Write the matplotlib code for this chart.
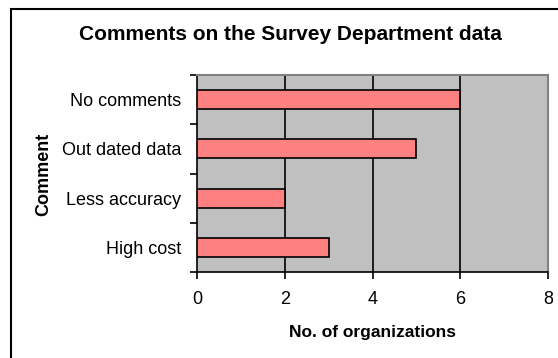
import matplotlib
matplotlib.use("Agg")
import matplotlib.pyplot as plt
from matplotlib.patches import Rectangle

categories = ["High cost", "Less accuracy", "Out dated data", "No comments"]
values = [3, 2, 5, 6]
xticks = [0, 2, 4, 6, 8]

plt.rcParams['font.family'] = ['Liberation Sans', 'DejaVu Sans']

W, H = 558, 358
fig = plt.figure(figsize=(W/100, H/100), dpi=100)
# plot area in pixels
x0, x1, y0, y1 = 197, 548, 75, 272
ax = fig.add_axes([x0/W, 1 - y1/H, (x1-x0)/W, (y1-y0)/H])
ax.set_facecolor('#C0C0C0')

ax.barh(range(len(categories)), values, height=0.39, color='#FF8080',
        edgecolor='black', linewidth=1.2, zorder=3)
ax.set_xlim(0, 8)
ax.set_ylim(-0.5, len(categories) - 0.5)
ax.set_xticks(xticks)
ax.set_xticklabels([str(t) for t in xticks], fontsize=13)
ax.set_yticks(range(len(categories)))
ax.set_yticklabels(categories, fontsize=13)
ax.tick_params(axis='y', length=0, pad=11.5)
ax.tick_params(axis='x', length=5, width=1.2, direction='out', pad=8.5)
# category divider ticks on y-axis
ax.set_yticks([i - 0.5 for i in range(len(categories) + 1)], minor=True)
ax.tick_params(axis='y', which='minor', length=5, width=1.2, direction='out')

for t in xticks[1:-1]:
    ax.axvline(t, color='black', linewidth=1.2, zorder=1)

for s in ['top', 'right']:
    ax.spines[s].set_color('#808080')
    ax.spines[s].set_linewidth(1.5)
for s in ['left', 'bottom']:
    ax.spines[s].set_color('black')
    ax.spines[s].set_linewidth(1.2)

fig.text((x0 + x1) / 2 / W, 1 - 332/H, "No. of organizations",
         ha='center', va='center', fontsize=12.5, fontweight='bold')
fig.text(44/W, 1 - 174.5/H, "Comment", rotation=90,
         ha='center', va='center', fontsize=13, fontweight='bold')

fig.text(0.5 * (73 + 507) / W, 1 - 35/H, "Comments on the Survey Department data",
         ha='center', va='center', fontsize=15, fontweight='bold')

fig.patches.append(Rectangle((11/W, -0.1), 1.2, (1 - 9/H) + 0.1,
                             transform=fig.transFigure, fill=False,
                             edgecolor='black', linewidth=1.5))

fig.savefig("out.png", dpi=100)
